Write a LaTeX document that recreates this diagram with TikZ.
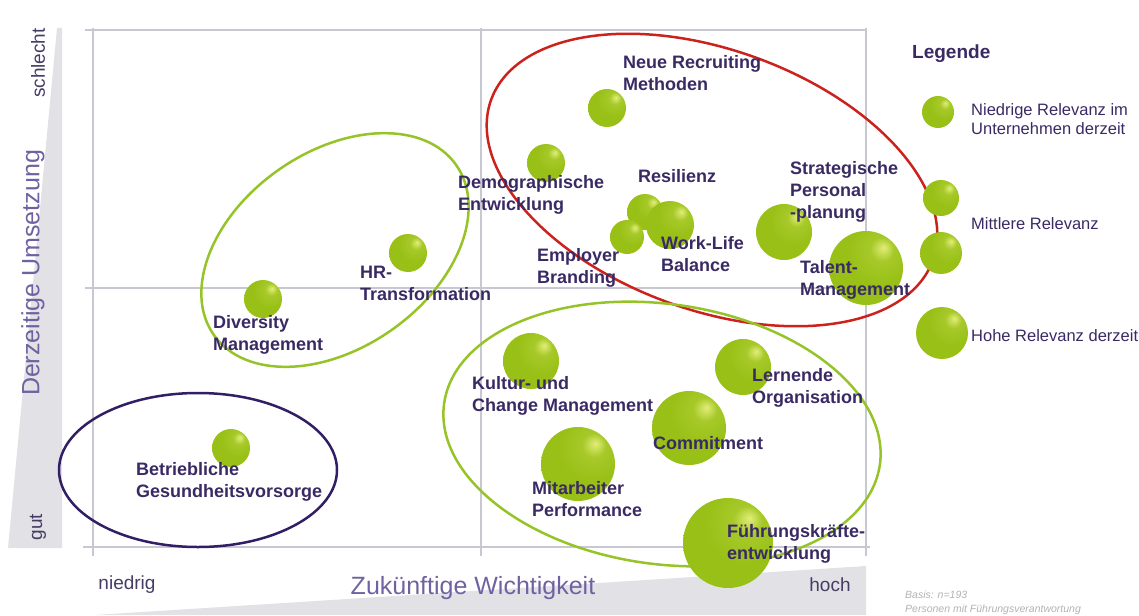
\documentclass[tikz,border=0pt]{standalone}
\usepackage{fontspec}
\setmainfont{Liberation Sans}
\definecolor{bubblegreen}{RGB}{152,192,22}
\definecolor{bubblelight}{RGB}{226,238,120}
\definecolor{bubbledark}{RGB}{118,158,12}
\definecolor{labelpurple}{RGB}{58,42,100}
\definecolor{axispurple}{RGB}{112,98,160}
\definecolor{endpurple}{RGB}{70,60,100}
\definecolor{gridgray}{RGB}{200,200,210}
\definecolor{wedgegray}{RGB}{226,226,230}
\definecolor{ringred}{RGB}{204,34,30}
\definecolor{ringgreen}{RGB}{150,196,40}
\definecolor{ringpurple}{RGB}{50,30,100}
\pgfdeclareradialshading{bubbleshade}{\pgfpoint{12bp}{14bp}}{color(0bp)=(bubblelight); color(8bp)=(bubblegreen!80!bubblelight); color(22bp)=(bubblegreen); color(50bp)=(bubblegreen); color(62bp)=(bubbledark); color(80bp)=(bubbledark)}
\tikzset{
  bubble/.style={circle, shading=bubbleshade, minimum size=#1, inner sep=0pt},
  lbl/.style={anchor=base west, align=left, inner sep=0pt, text=labelpurple,
    font=\fontsize{18}{22}\selectfont\bfseries},
  legendlbl/.style={anchor=base west, align=left, inner sep=0pt, text=labelpurple,
    font=\fontsize{16.5}{20}\selectfont},
  axistitle/.style={inner sep=0pt, text=axispurple, font=\fontsize{25}{28}\selectfont},
  axisend/.style={inner sep=0pt, text=endpurple, font=\fontsize{19}{22}\selectfont},
  gridline/.style={gridgray, line width=1.5pt},
  ring/.style={line width=2.5pt}
}
\begin{document}
\begin{tikzpicture}[x=1pt, y=-1pt]
\useasboundingbox (0,0) rectangle (1139,615);
\fill[wedgegray] (8,548) -- (62,548) -- (62,28) -- (57,28) -- cycle;
\fill[wedgegray] (95,615) -- (866,566) -- (866,615) -- cycle;
\draw[gridline] (85,30) -- (866,30);
\draw[gridline] (85,288) -- (866,288);
\draw[gridline] (83,547) -- (870,547);
\draw[gridline] (93,28) -- (93,556);
\draw[gridline] (481,28) -- (481,556);
\draw[gridline] (866,28) -- (866,556);
\node[axisend, rotate=90] (schlecht) at (38,63) {schlecht};
\node[axistitle, rotate=90] (umsetzung) at (33,273) {Derzeitige Umsetzung};
\node[axisend, rotate=90] (gut) at (38,527) {gut};
\node[axisend] (niedrig) at (127,585) {niedrig};
\node[axistitle] (wichtigkeit) at (473,588) {Zukünftige Wichtigkeit};
\node[axisend] (hoch) at (830,585) {hoch};
\draw[ringred, ring, rotate around={-20:(712,180)}] (712,180) ellipse [x radius=235, y radius=130];
\draw[ringgreen, ring, rotate around={35:(335,250)}] (335,250) ellipse [x radius=148, y radius=98];
\draw[ringgreen, ring, rotate around={-8:(662,434)}] (662,434) ellipse [x radius=220, y radius=130];
\draw[ringpurple, ring] (198,470) ellipse [x radius=139, y radius=77];
\node[bubble=38pt] (recruiting) at (607,108) {};
\node[bubble=38pt] (demographie) at (546,163) {};
\node[bubble=36pt] (resilienz) at (645,212) {};
\node[bubble=34pt] (employer) at (627,237) {};
\node[bubble=48pt] (worklife) at (670,225) {};
\node[bubble=56pt] (strategie) at (784,232) {};
\node[bubble=74pt] (talent) at (866,268) {};
\node[bubble=38pt] (hr) at (408,253) {};
\node[bubble=38pt] (diversity) at (263,299) {};
\node[bubble=56pt] (kultur) at (531,361) {};
\node[bubble=56pt] (lernende) at (743,367) {};
\node[bubble=74pt] (commitment) at (689,428) {};
\node[bubble=74pt] (mitarbeiter) at (578,464) {};
\node[bubble=90pt] (fuehrung) at (728,543) {};
\node[bubble=38pt] (gesundheit) at (231,448) {};
\node[lbl] (recruitinglbl) at (623,91) {Neue Recruiting\\Methoden};
\node[lbl] (demographielbl) at (458,210) {Demographische\\Entwicklung};
\node[lbl] (resilienzlbl) at (638,182) {Resilienz};
\node[lbl] (worklifelbl) at (661,271) {Work-Life\\Balance};
\node[lbl] (employerlbl) at (537,283) {Employer\\Branding};
\node[lbl] (strategielbl) at (790,218) {Strategische\\Personal\\-planung};
\node[lbl] (talentlbl) at (800,295) {Talent-\\Management};
\node[lbl] (hrlbl) at (360,300) {HR-\\Transformation};
\node[lbl] (diversitylbl) at (213,350) {Diversity\\Management};
\node[lbl] (kulturlbl) at (472,411) {Kultur- und\\Change Management};
\node[lbl] (lernendelbl) at (752,403) {Lernende\\Organisation};
\node[lbl] (commitmentlbl) at (653,449) {Commitment};
\node[lbl] (mitarbeiterlbl) at (532,516) {Mitarbeiter\\Performance};
\node[lbl] (fuehrunglbl) at (727,559) {Führungskräfte-\\entwicklung};
\node[lbl] (gesundheitlbl) at (136,497) {Betriebliche\\Gesundheitsvorsorge};
\node[anchor=base west, inner sep=0pt, text=labelpurple, font=\fontsize{19}{22}\selectfont\bfseries] (legende) at (912,59) {Legende};
\node[bubble=32pt] (lowbubble) at (938,112) {};
\node[bubble=36pt] (midbubblea) at (941,198) {};
\node[bubble=42pt] (midbubbleb) at (941,253) {};
\node[bubble=52pt] (highbubble) at (942,333) {};
\node[legendlbl] (lowlbl) at (971,135) {Niedrige Relevanz im\\Unternehmen derzeit};
\node[legendlbl] (midlbl) at (971,229) {Mittlere Relevanz};
\node[legendlbl] (highlbl) at (971,341) {Hohe Relevanz derzeit};
\node[anchor=base west, align=left, inner sep=0pt, text=black!30, font=\fontsize{10.5}{14}\selectfont\itshape] (basis) at (905,612) {Basis: n=193\\Personen mit Führungsverantwortung};
\end{tikzpicture}
\end{document}
